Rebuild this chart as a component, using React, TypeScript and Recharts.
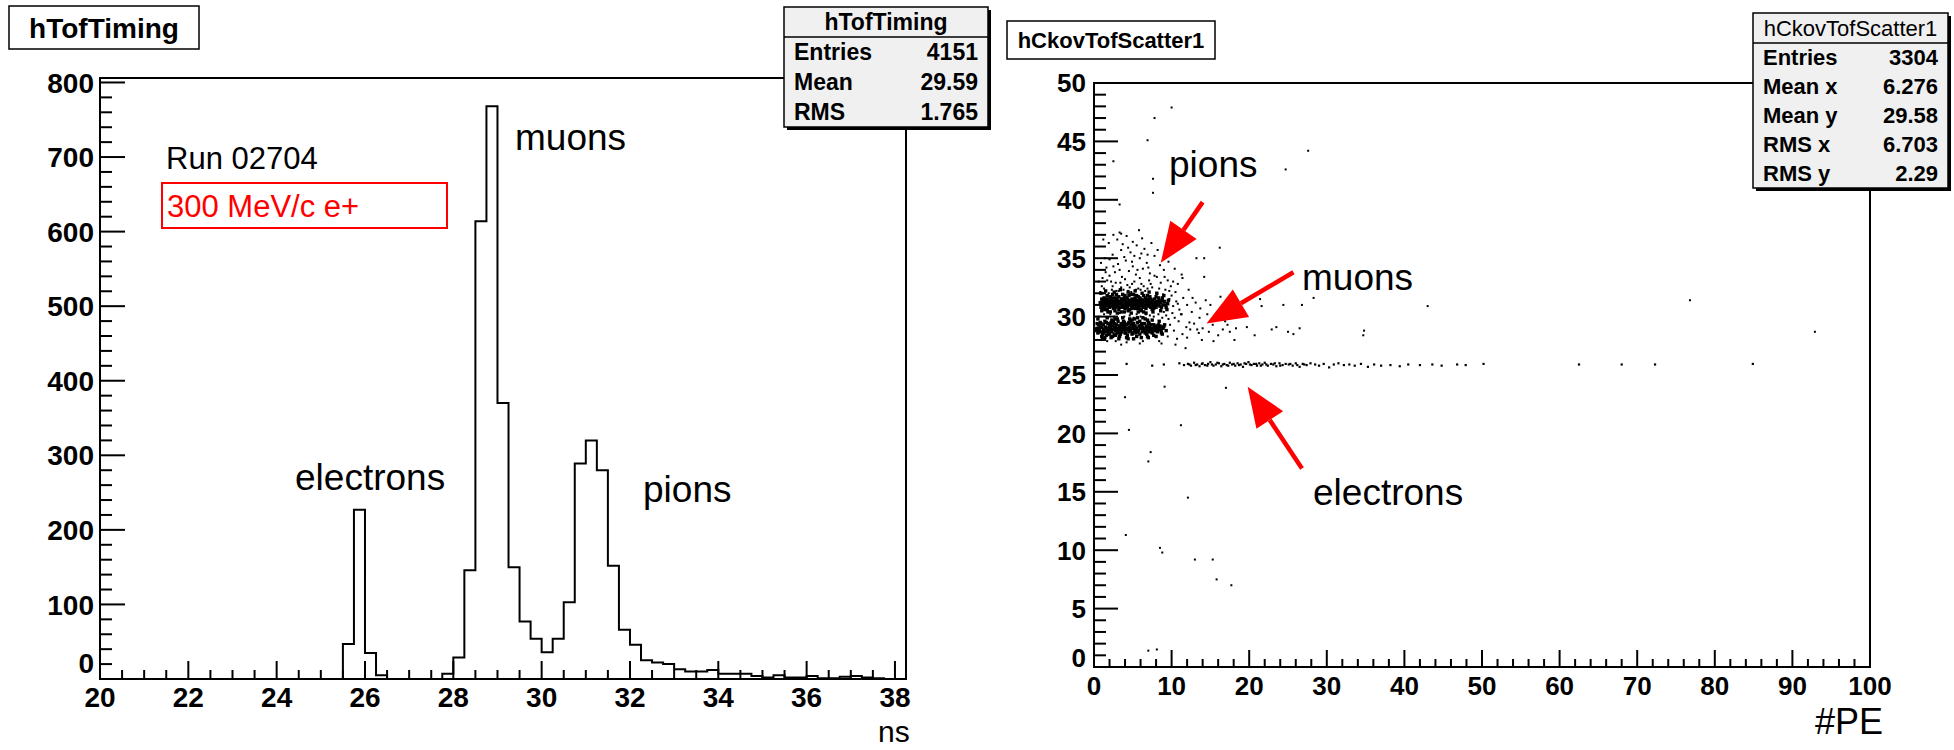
import { Line, LineChart, ReferenceArea, Scatter, ScatterChart, XAxis, YAxis } from "recharts"

const FONT = "'Liberation Sans', Arial, Helvetica, sans-serif"

// hTofTiming: 0.25 ns bins starting at 20 ns
const tofStart = 20
const tofBinWidth = 0.25
const tofEnd = 38.25
const tofCounts = [
  0, 0, 0, 0, 0, 0, 0, 0, 0, 0, 0, 0, 0, 0, 0, 0, 0, 0, 0, 0, 0, 0,
  47, 227, 35, 5, 0, 0, 0, 0, 0, 7,
  29, 146, 614, 768, 370, 150, 77, 54, 36, 54, 103, 289, 320, 280, 152, 66,
  46, 25, 22, 20, 13, 10, 10, 12, 7, 7, 7, 4, 2, 5, 2, 2, 4, 1, 1, 3, 4, 2, 1, 0, 0,
]
const tofXMajor = [20, 22, 24, 26, 28, 30, 32, 34, 36, 38]
const tofYMajor = [0, 100, 200, 300, 400, 500, 600, 700, 800]
const tofYMax = 806

const tofStats = [
  ["Entries", "4151"],
  ["Mean", "29.59"],
  ["RMS", "1.765"],
]

// hCkovTofScatter1: [#PE, ns]
const pionBand = [
  [0.8,31.2],[0.9,30.8],[1.0,31.5],[1.1,31.0],[1.2,31.3],[1.2,30.7],[1.3,31.6],[1.4,31.1],[1.5,30.9],[1.5,31.4],
  [1.6,31.2],[1.7,30.6],[1.8,31.0],[1.8,31.5],[1.9,31.3],[2.0,30.8],[2.0,31.1],[2.1,31.7],[2.2,31.2],[2.3,30.9],
  [2.3,31.4],[2.4,31.0],[2.5,31.6],[2.5,30.7],[2.6,31.3],[2.7,31.1],[2.8,30.8],[2.8,31.5],[2.9,31.2],[3.0,30.9],
  [3.0,31.4],[3.1,31.0],[3.2,31.7],[3.2,30.6],[3.3,31.3],[3.4,31.1],[3.5,30.8],[3.5,31.5],[3.6,31.2],[3.7,30.9],
  [3.8,31.4],[3.8,31.0],[3.9,31.6],[4.0,31.2],[4.0,30.7],[4.1,31.3],[4.2,31.0],[4.3,31.5],[4.3,30.8],[4.4,31.2],
  [4.5,31.8],[4.5,31.0],[4.6,30.6],[4.7,31.3],[4.8,31.1],[4.8,30.9],[4.9,31.5],[5.0,31.2],[5.0,30.8],[5.1,31.4],
  [5.2,31.0],[5.3,31.6],[5.3,30.7],[5.4,31.2],[5.5,30.9],[5.5,31.4],[5.6,31.1],[5.7,31.7],[5.8,30.8],[5.8,31.3],
  [5.9,31.0],[6.0,31.5],[6.0,30.6],[6.1,31.2],[6.2,30.9],[6.3,31.4],[6.3,31.1],[6.4,30.8],[6.5,31.3],[6.6,31.6],
  [6.6,31.0],[6.7,30.7],[6.8,31.2],[6.9,31.5],[7.0,30.9],[7.0,31.3],[7.1,31.1],[7.2,31.7],[7.3,30.8],[7.4,31.2],
  [7.5,31.4],[7.6,30.9],[7.7,31.1],[7.8,31.5],[7.9,31.2],[8.0,30.8],[8.1,31.3],[8.2,31.0],[8.4,31.4],[8.5,30.9],
  [8.6,31.2],[8.8,31.6],[8.9,31.0],[9.1,31.3],[9.3,30.8],[9.5,31.1],
  [1.1,31.4],[1.3,30.9],[1.6,31.5],[1.9,30.9],[2.2,31.5],[2.6,30.9],[2.9,31.6],[3.3,30.8],[3.6,31.5],[3.9,30.8],
  [4.2,31.6],[4.6,31.4],[4.9,30.7],[5.2,31.5],[5.6,30.7],[5.9,31.6],[6.2,31.4],[6.5,30.8],[6.9,31.0],[7.3,31.5],
  [7.7,30.7],[8.3,31.6],[8.7,30.8],[1.4,30.6],[2.4,31.9],[3.7,31.9],[5.1,31.9],[6.4,31.8],[7.5,30.6],[2.7,30.5],
  [4.4,30.5],[6.1,30.5],
  [0.9,32.0],[1.5,32.2],[2.1,30.4],[2.6,32.1],[3.0,30.3],[3.4,32.3],[3.9,30.4],[4.4,32.1],[4.8,30.3],[5.3,32.2],
  [5.7,30.4],[6.2,32.0],[6.7,30.3],[7.1,32.1],[7.6,30.4],[8.1,32.0],[8.6,30.5],[9.0,31.8],[9.4,30.6],[1.8,30.4],
  [2.9,31.9],[4.0,31.8],[5.5,31.8],[6.9,31.8],[8.0,31.7],[1.0,30.5],[3.5,30.4],[6.4,30.4],[1.7,31.8],[4.7,31.9],
  [1.05,31.1],[1.7,31.0],[2.15,30.95],[2.75,31.25],[3.15,31.2],[3.65,30.85],[4.15,31.05],[4.65,31.15],[5.15,31.05],[5.65,31.35],
  [6.15,31.0],[6.75,31.35],[7.25,30.95],[7.85,30.95],[8.35,31.15],[8.8,31.35],[9.2,31.0],[9.6,31.4],[2.35,31.25],[5.85,31.15],
]

const muonBand = [
  [0.4,29.0],[0.5,28.6],[0.6,29.3],[0.7,28.9],[0.8,29.5],[0.9,28.7],[1.0,29.1],[1.1,28.5],[1.2,29.3],[1.3,28.9],
  [1.4,29.6],[1.4,28.7],[1.5,29.1],[1.6,28.4],[1.7,29.0],[1.8,29.4],[1.9,28.8],[2.0,29.2],[2.0,28.5],[2.1,29.0],
  [2.2,29.5],[2.3,28.7],[2.4,29.2],[2.5,28.9],[2.6,29.4],[2.6,28.5],[2.7,29.1],[2.8,28.8],[2.9,29.3],[3.0,28.6],
  [3.0,29.0],[3.1,29.6],[3.2,28.8],[3.3,29.2],[3.4,28.5],[3.4,29.0],[3.5,29.4],[3.6,28.7],[3.7,29.1],[3.8,28.9],
  [3.9,29.5],[4.0,28.6],[4.0,29.2],[4.1,28.9],[4.2,29.3],[4.3,28.4],[4.4,29.0],[4.5,29.5],[4.5,28.7],[4.6,29.1],
  [4.7,28.8],[4.8,29.3],[4.9,28.5],[5.0,29.0],[5.1,29.4],[5.2,28.8],[5.3,29.2],[5.4,28.6],[5.5,29.0],[5.6,29.5],
  [5.7,28.8],[5.8,29.2],[5.9,28.5],[6.0,29.0],[6.1,29.3],[6.2,28.7],[6.3,29.1],[6.4,28.9],[6.5,29.4],[6.6,28.6],
  [6.7,29.0],[6.8,29.2],[6.9,28.8],[7.0,29.5],[7.1,28.7],[7.2,29.1],[7.3,28.9],[7.4,29.3],[7.5,28.6],[7.6,29.0],
  [7.8,28.8],[7.9,29.2],[8.1,29.0],[8.2,28.7],[8.3,29.3],[8.4,28.9],[8.6,29.1],[8.7,28.6],[8.9,29.0],
  [0.6,28.7],[0.9,29.4],[1.2,28.6],[1.6,29.5],[1.9,28.5],[2.2,28.9],[2.5,29.6],[2.8,28.4],[3.1,28.9],[3.5,28.7],
  [3.8,29.6],[4.1,28.6],[4.4,29.4],[4.7,29.6],[5.0,28.6],[5.3,28.9],[5.6,28.7],[5.9,29.6],[6.2,29.4],[6.5,28.8],
  [6.8,28.5],[7.1,29.4],[7.4,28.7],[7.7,29.3],[8.0,28.8],[8.5,29.2],[1.0,28.3],[3.3,28.3],[5.5,28.3],[2.3,29.7],
  [4.9,29.7],[6.9,29.7],
  [0.5,29.8],[1.1,28.1],[1.7,29.9],[2.2,28.2],[2.7,29.8],[3.2,28.1],[3.7,29.9],[4.2,28.2],[4.6,29.8],[5.1,28.1],
  [5.6,29.9],[6.1,28.2],[6.6,29.8],[7.0,28.2],[7.5,29.7],[8.0,28.3],[8.4,29.6],[8.8,28.5],[9.1,29.3],[9.3,28.8],
  [1.4,28.2],[3.0,29.8],[4.4,28.1],[6.3,29.9],[7.7,28.4],[0.3,28.8],[0.4,29.4],[2.4,28.3],[5.2,29.8],[6.9,28.3],
  [0.75,29.15],[1.25,28.8],[1.75,28.7],[2.15,29.3],[2.65,29.0],[3.15,28.75],[3.55,29.15],[4.05,28.95],[4.55,28.9],[5.05,29.2],
  [5.45,28.8],[5.95,29.05],[6.45,28.95],[6.95,29.1],[7.45,28.95],[7.85,29.05],[8.25,29.1],[8.65,28.8],[9.0,29.15],[3.85,29.3],
]

const pionHalo = [
  [0.8,32.1],[1.3,32.4],[1.9,32.0],[2.4,32.6],[2.9,32.2],[3.4,32.9],[3.8,32.3],[4.3,32.7],[4.8,32.1],[5.2,33.0],
  [5.7,32.4],[6.1,32.8],[6.6,32.2],[7.1,33.1],[7.5,32.5],[8.0,32.0],[8.6,32.9],[9.2,32.3],[9.9,32.6],[10.5,32.1],
  [1.1,33.3],[2.0,33.5],[2.7,33.8],[3.6,33.4],[4.5,33.9],[5.4,33.6],[6.3,34.1],[7.2,33.7],[8.1,33.4],[9.0,34.0],
  [1.6,34.2],[3.1,34.5],[4.1,34.8],[5.0,34.3],[5.9,35.0],[6.8,34.6],[7.8,35.2],[2.4,35.3],[3.5,35.7],[4.7,35.5],
  [5.5,36.1],[6.5,35.8],[1.9,36.3],[3.0,36.6],[4.2,36.9],[2.5,37.0],[3.3,37.2],[5.8,37.4],[0.6,33.0],[1.4,35.0],
  [0.9,34.6],[7.4,36.3],[8.2,35.7],[9.5,33.1],[10.8,32.8],[11.3,33.6],[6.0,32.3],[4.6,32.5],[3.2,32.2],[2.2,33.0],
  [8.9,31.9],[5.0,36.4],
  [1.0,32.6],[1.7,33.1],[2.3,32.3],[2.8,32.9],[3.5,32.5],[4.0,33.2],[4.4,32.2],[4.9,32.8],[5.4,32.3],[5.9,33.3],
  [6.4,32.6],[6.9,32.4],[7.3,32.8],[7.8,33.5],[8.4,32.4],[9.1,33.4],[9.7,32.2],[10.2,33.0],[1.5,33.8],[2.5,34.3],
  [3.3,34.0],[3.9,35.1],[4.9,34.7],[5.6,34.0],[6.1,35.4],[7.0,34.2],[8.5,34.4],[2.0,34.9],[4.4,35.9],[6.9,35.3],
  [3.7,36.2],[5.2,35.2],[1.2,36.6],[6.2,36.7],[9.6,34.7],[10.4,34.1],
]

const bandTail = [
  [9.7,31.5],[10.2,30.9],[10.6,31.3],[11.0,30.6],[11.5,31.6],[12.0,31.0],[12.6,30.4],[13.1,31.2],[13.7,30.7],[14.4,31.4],
  [9.8,29.3],[10.3,28.8],[10.9,29.6],[11.4,28.5],[11.9,29.1],[12.4,28.9],[12.9,29.4],[13.5,28.6],[14.0,29.0],[14.8,28.7],
  [15.3,29.3],[16.0,28.4],[16.6,28.9],[17.5,28.7],[18.1,28.0],[15.4,27.9],[19.7,29.1],[20.7,28.4],[21.4,31.5],[21.6,30.9],
  [22.9,28.9],[23.5,29.1],[24.4,31.0],[25.0,28.7],[25.7,28.5],[26.5,29.0],[26.8,31.0],[9.3,30.1],[10.1,30.3],[8.8,29.9],
  [7.2,30.1],[5.5,30.2],[3.9,30.0],[2.1,30.2],[6.3,27.9],[4.2,27.8],[8.7,27.7],[10.5,27.6],[2.8,27.9],[0.6,30.0],
  [1.2,32.0],[12.2,32.3],[13.6,29.9],[34.7,28.4],[11.8,27.3],[16.9,29.6],[28.3,31.6],[34.8,28.8],
  [1.3,30.2],[2.6,30.0],[3.3,30.3],[4.6,30.1],[5.1,29.9],[6.0,30.0],[6.7,30.2],[7.7,30.0],[8.3,30.2],[9.0,30.4],
  [9.6,29.8],[10.4,29.9],[11.2,30.2],[10.0,31.8],[10.8,31.1],[11.3,30.2],[12.3,29.5],[12.7,31.6],[13.3,28.9],[14.6,30.2],
  [15.0,31.0],[15.8,29.8],[16.3,31.7],[17.2,29.3],[18.3,29.0],[19.0,30.4],[9.5,28.3],[10.7,28.1],[12.0,28.2],[13.9,28.0],
  [8.4,27.9],[5.9,27.7],[3.5,27.6],[1.7,27.9],
]

const electronLine = [
  [11.0,26.0],[11.6,25.85],[12.1,25.95],[12.5,25.8],[12.9,26.05],[13.3,25.9],[13.6,25.75],[14.0,26.0],[14.3,25.85],[14.7,25.95],
  [15.0,26.1],[15.4,25.8],[15.7,25.9],[16.1,26.0],[16.4,25.75],[16.8,25.95],[17.1,25.85],[17.5,26.05],[17.8,25.9],[18.2,25.8],
  [18.5,26.0],[18.9,25.9],[19.2,25.7],[19.6,25.95],[19.9,26.1],[20.3,25.85],[20.6,25.95],[21.0,25.8],[21.3,26.0],[21.7,25.9],
  [22.0,26.05],[22.4,25.8],[22.8,25.95],[23.1,25.9],[23.5,25.75],[23.9,26.0],[24.3,25.85],[24.7,25.95],[25.1,25.9],[25.6,25.8],
  [26.0,26.0],[26.5,25.7],[26.9,25.95],[27.4,25.85],[27.9,26.0],[28.5,25.9],[29.0,25.8],[29.6,25.95],[30.3,25.65],[30.9,25.9],
  [31.5,26.0],[32.2,25.85],[32.9,25.9],[33.6,25.8],[34.4,25.95],[35.3,25.7],[36.1,25.9],[37.0,25.8],[38.2,25.85],[39.4,25.75],
  [40.5,25.9],[42.0,25.85],[43.6,25.9],[44.8,25.8],[46.8,25.9],[47.9,25.85],[50.2,25.95],
  [12.3,25.9],[13.1,25.85],[13.9,25.95],[14.6,25.8],[15.2,25.9],[15.9,26.05],[16.6,25.9],[17.3,25.8],[18.0,25.95],[18.7,25.85],
  [19.4,26.0],[20.1,25.9],[20.9,25.95],[21.5,25.8],[22.2,25.9],[23.3,26.0],[24.0,25.8],[25.3,25.95],[26.2,25.85],[27.1,25.9],
  [62.5,25.9],[68.0,25.9],[72.3,25.9],[84.9,25.95],[4.2,25.95],[7.5,25.8],[9.0,25.9],
]

const outliers = [
  [10.0,47.9],[7.8,47.0],[6.9,45.1],[27.6,44.2],[2.5,43.3],[24.7,42.6],[7.6,41.8],[7.6,40.6],[3.3,39.6],[3.5,37.1],
  [16.2,35.9],[13.2,35.0],[14.2,35.0],[11.4,33.3],[14.2,33.4],[43.0,30.9],[76.8,31.4],[92.9,28.7],[9.1,24.0],[17.0,23.9],
  [4.0,23.1],[4.5,20.3],[11.2,20.7],[7.3,18.4],[7.0,17.6],[12.1,14.5],[4.1,11.3],[8.5,10.2],[8.8,9.8],[13.0,9.2],
  [15.3,9.2],[15.8,7.5],[17.7,7.0],[7.0,1.4],[8.1,1.5],
]

const scatXMajor = [0, 10, 20, 30, 40, 50, 60, 70, 80, 90, 100]
const scatYMajor = [0, 5, 10, 15, 20, 25, 30, 35, 40, 45, 50]

const scatStats = [
  ["Entries", "3304"],
  ["Mean x", "6.276"],
  ["Mean y", "29.58"],
  ["RMS x", "6.703"],
  ["RMS y", "2.29"],
]

// arrows in (#PE, ns): tail -> tip
const scatArrows = [
  [14.0, 39.8, 8.6, 34.6],
  [25.7, 33.8, 14.5, 29.4],
  [26.8, 17.0, 19.8, 24.0],
]

const tofRows = tofCounts
  .map((c, i) => ({ t: tofStart + i * tofBinWidth, count: c }))
  .concat([{ t: tofEnd, count: 0 }])

const toPts = (a: number[][]) => a.map(([pe, ns]) => ({ pe, ns }))

function withMinors(major: number[], sub: number) {
  const out: number[] = []
  for (let i = 0; i < major.length - 1; i++) {
    const step = (major[i + 1] - major[i]) / sub
    for (let k = 0; k < sub; k++) out.push(major[i] + k * step)
  }
  out.push(major[major.length - 1])
  return out
}

const isIn = (list: number[], v: number) => list.some((m) => Math.abs(m - v) < 1e-6)

const xTick = (major: number[], big: number, small: number, size: number, gap: number) => (p: any) => {
  const v = p.payload.value
  const maj = isIn(major, v)
  return (
    <g>
      <line x1={p.x} x2={p.x} y1={p.y} y2={p.y - (maj ? big : small)} stroke="#000" strokeWidth={2} />
      {maj && (
        <text x={p.x} y={p.y + gap} textAnchor="middle" fontFamily={FONT} fontWeight="bold" fontSize={size} fill="#000">
          {v}
        </text>
      )}
    </g>
  )
}

// zeroLift: ROOT tucks the "0" label a little above the corner so it clears the first x label
const yTick = (major: number[], big: number, small: number, size: number, gap: number, zeroLift: number) => (p: any) => {
  const v = p.payload.value
  const maj = isIn(major, v)
  const lift = v === 0 ? zeroLift : 0
  return (
    <g>
      <line x1={p.x} x2={p.x + (maj ? big : small)} y1={p.y} y2={p.y} stroke="#000" strokeWidth={2} />
      {maj && (
        <text x={p.x - gap} y={p.y - lift} dy="0.36em" textAnchor="end" fontFamily={FONT} fontWeight="bold" fontSize={size} fill="#000">
          {v}
        </text>
      )}
    </g>
  )
}

const dot = (s: number) => (p: any) => <rect x={p.cx - s / 2} y={p.cy - s / 2} width={s} height={s} fill="#000" />

// right plot area in page pixels (matches the ScatterChart margins below)
const R = { left: 1094, top: 83, w: 776, h: 584 }
const rx = (pe: number) => R.left + (pe / 100) * R.w
const ry = (ns: number) => R.top + R.h - (ns / 50) * R.h

function Arrow({ x1, y1, x2, y2 }: { x1: number; y1: number; x2: number; y2: number }) {
  const L = Math.hypot(x2 - x1, y2 - y1)
  const ux = (x2 - x1) / L
  const uy = (y2 - y1) / L
  const bx = x2 - ux * 40
  const by = y2 - uy * 40
  const pts = `${x2},${y2} ${bx - uy * 16},${by + ux * 16} ${bx + uy * 16},${by - ux * 16}`
  return (
    <g>
      <line x1={x1} y1={y1} x2={bx} y2={by} stroke="#ff0000" strokeWidth={4.5} />
      <polygon points={pts} fill="#ff0000" />
    </g>
  )
}

function StatBox({ x, y, w, head, headH, rowH, rows, size, headBold }: any) {
  const h = headH + rowH * rows.length
  return (
    <g fontFamily={FONT} fill="#000">
      <rect x={x + 3} y={y + 3} width={w} height={h} fill="#000" />
      <rect x={x} y={y} width={w} height={h} fill="#f0f0f0" stroke="#000" strokeWidth={1.5} />
      <line x1={x} x2={x + w} y1={y + headH} y2={y + headH} stroke="#000" strokeWidth={1.5} />
      <text x={x + w / 2} y={y + headH / 2} dy="0.36em" textAnchor="middle" fontSize={size} fontWeight={headBold ? "bold" : "normal"}>
        {head}
      </text>
      {rows.map((r: string[], i: number) => (
        <g key={r[0]} fontWeight="bold" fontSize={size}>
          <text x={x + 10} y={y + headH + rowH * (i + 0.5)} dy="0.36em">{r[0]}</text>
          <text x={x + w - 10} y={y + headH + rowH * (i + 0.5)} dy="0.36em" textAnchor="end">{r[1]}</text>
        </g>
      ))}
    </g>
  )
}

export default function App() {
  const tofXTicks = withMinors(tofXMajor, 4)
  const tofYTicks = withMinors(tofYMajor, 5)
  const scXTicks = withMinors(scatXMajor, 5)
  const scYTicks = withMinors(scatYMajor, 5)
  return (
    <div style={{ position: "absolute", left: 0, top: 0, width: 1954, height: 750, background: "#fff", overflow: "hidden" }}>
      <div style={{ position: "absolute", left: 0, top: 0 }}>
        <LineChart width={1000} height={750} data={tofRows} margin={{ top: 78, right: 94, bottom: 31, left: 40 }}>
          <XAxis
            type="number"
            dataKey="t"
            domain={[tofStart, tofEnd]}
            ticks={tofXTicks}
            interval={0}
            height={40}
            tickSize={0}
            tickMargin={0}
            axisLine={false}
            tick={xTick(tofXMajor, 18, 9, 28, 28)}
          />
          <YAxis
            type="number"
            domain={[0, tofYMax]}
            ticks={tofYTicks}
            interval={0}
            width={60}
            tickSize={0}
            tickMargin={0}
            axisLine={false}
            tick={yTick(tofYMajor, 25, 12, 28, 6, 16)}
          />
          <ReferenceArea x1={tofStart} x2={tofEnd} y1={0} y2={tofYMax} fill="none" stroke="#000" strokeWidth={2} />
          <Line type="stepAfter" dataKey="count" stroke="#000" strokeWidth={2} dot={false} isAnimationActive={false} />
        </LineChart>
      </div>
      <div style={{ position: "absolute", left: 1000, top: 0 }}>
        <ScatterChart width={954} height={750} margin={{ top: 83, right: 84, bottom: 43, left: 34 }}>
          <XAxis
            type="number"
            dataKey="pe"
            domain={[0, 100]}
            ticks={scXTicks}
            interval={0}
            height={40}
            tickSize={0}
            tickMargin={0}
            axisLine={false}
            tick={xTick(scatXMajor, 17, 8, 26, 28)}
          />
          <YAxis
            type="number"
            dataKey="ns"
            domain={[0, 50]}
            ticks={scYTicks}
            interval={0}
            width={60}
            tickSize={0}
            tickMargin={0}
            axisLine={false}
            tick={yTick(scatYMajor, 24, 12, 26, 8, 9)}
          />
          <ReferenceArea x1={0} x2={100} y1={0} y2={50} fill="none" stroke="#000" strokeWidth={2} />
          <Scatter data={toPts(pionBand)} shape={dot(3.4)} isAnimationActive={false} />
          <Scatter data={toPts(muonBand)} shape={dot(3.4)} isAnimationActive={false} />
          <Scatter data={toPts(pionHalo)} shape={dot(2)} isAnimationActive={false} />
          <Scatter data={toPts(bandTail)} shape={dot(2)} isAnimationActive={false} />
          <Scatter data={toPts(electronLine)} shape={dot(2.2)} isAnimationActive={false} />
          <Scatter data={toPts(outliers)} shape={dot(2)} isAnimationActive={false} />
        </ScatterChart>
      </div>
      <svg width={1954} height={750} style={{ position: "absolute", left: 0, top: 0, pointerEvents: "none" }}>
        <g fontFamily={FONT}>
          <rect x={9} y={6} width={190} height={43} fill="#fff" stroke="#000" strokeWidth={1.5} />
          <text x={104} y={28} dy="0.36em" textAnchor="middle" fontWeight="bold" fontSize={28}>hTofTiming</text>
          <rect x={1007} y={21} width={208} height={38} fill="#fff" stroke="#000" strokeWidth={1.5} />
          <text x={1111} y={40} dy="0.36em" textAnchor="middle" fontWeight="bold" fontSize={22}>hCkovTofScatter1</text>

          <text x={166} y={158} dy="0.36em" fontSize={31}>Run 02704</text>
          <rect x={162} y={183} width={285} height={45} fill="none" stroke="#ff0000" strokeWidth={2} />
          <text x={167} y={206} dy="0.36em" fontSize={31} fill="#ff0000">300 MeV/c e+</text>
          <text x={515} y={137} dy="0.36em" fontSize={37}>muons</text>
          <text x={295} y={477} dy="0.36em" fontSize={37}>electrons</text>
          <text x={643} y={489} dy="0.36em" fontSize={37}>pions</text>
          <text x={878} y={731} dy="0.36em" fontSize={30}>ns</text>

          <text x={1169} y={164} dy="0.36em" fontSize={37}>pions</text>
          <text x={1302} y={277} dy="0.36em" fontSize={37}>muons</text>
          <text x={1313} y={492} dy="0.36em" fontSize={37}>electrons</text>
          <text x={1815} y={721} dy="0.36em" fontSize={36}>#PE</text>
        </g>
        {scatArrows.map(([a, b, c, d], i) => (
          <Arrow key={i} x1={rx(a)} y1={ry(b)} x2={rx(c)} y2={ry(d)} />
        ))}
        <StatBox x={784} y={7} w={204} head="hTofTiming" headH={30} rowH={30} rows={tofStats} size={23} headBold />
        <StatBox x={1753} y={13} w={195} head="hCkovTofScatter1" headH={30} rowH={29} rows={scatStats} size={22} />
      </svg>
    </div>
  )
}
